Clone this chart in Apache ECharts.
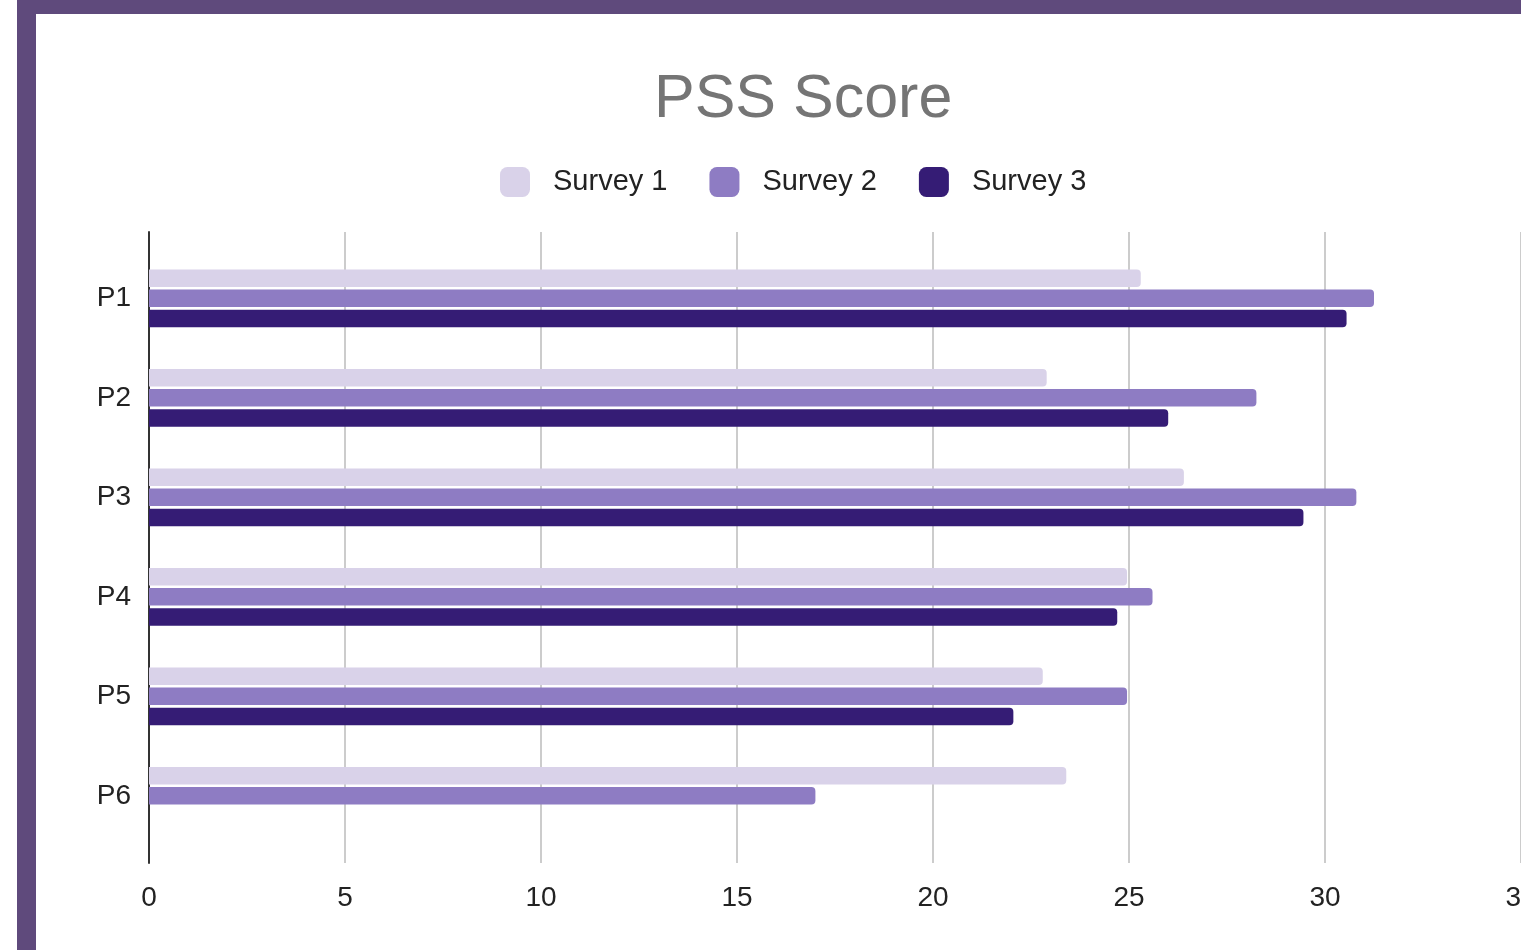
<!DOCTYPE html>
<html>
<head>
<meta charset="utf-8">
<script src="https://cdn.jsdelivr.net/npm/echarts@6/dist/echarts.min.js"></script>
<style>
  html, body { margin: 0; padding: 0; background: #fff; overflow: hidden; }
  /* 左侧和顶部的紫色边框 */
  .frameLeft { position: absolute; left: 17px; top: 0; width: 19px; height: 950px; background: #5f4a7c; }
  .frameTop { position: absolute; left: 17px; top: 0; right: 0; height: 14px; background: #5f4a7c; }
  #chart { position: absolute; left: 0; top: 0; width: 1521px; height: 950px; }
</style>
</head>
<body>
<div class="frameLeft"></div>
<div class="frameTop"></div>
<div id="chart"></div>
<script>
// 数据
const categories = ['P1', 'P2', 'P3', 'P4', 'P5', 'P6'];
const survey1 = [25.3, 22.9, 26.4, 24.95, 22.8, 23.4];
const survey2 = [31.25, 28.25, 30.8, 25.6, 24.95, 17];
const survey3 = [30.55, 26, 29.45, 24.7, 22.05, null];
const seriesNames = ['Survey 1', 'Survey 2', 'Survey 3'];
const colors = ['#d9d2e9', '#8e7cc3', '#351c75'];
const xMin = 0, xMax = 35, xStep = 5;

const font = '"Liberation Sans", Arial, sans-serif';
const chart = echarts.init(document.getElementById('chart'));

const makeBar = (name, data, color) => ({
  name: name,
  type: 'bar',
  xAxisIndex: 0,
  yAxisIndex: 0,
  data: data,
  barWidth: 17.5,
  barGap: '15%',
  itemStyle: { color: color, borderRadius: [0, 4, 4, 0] }
});

const option = {
  animation: false,
  backgroundColor: 'transparent',
  textStyle: { fontFamily: font },
  title: {
    text: 'PSS Score',
    left: 649,
    top: 65,
    textStyle: { fontFamily: font, fontSize: 61, fontWeight: 'normal', color: '#757575' }
  },
  legend: {
    left: 495,
    top: 162,
    itemWidth: 30,
    itemHeight: 30,
    itemGap: 42,
    icon: 'roundRect',
    data: seriesNames,
    textStyle: { fontFamily: font, fontSize: 29, color: '#222', padding: [0, 0, 0, 18] }
  },
  grid: [
    // 柱子所在区域
    { left: 149, width: 1372, top: 248.6, height: 597, outerBoundsMode: 'none' },
    // 网格线和坐标轴区域（右端的 35 标签被截掉一半）
    { left: 149, width: 1372, top: 232, height: 631, outerBoundsMode: 'none' }
  ],
  xAxis: [
    { gridIndex: 0, type: 'value', min: xMin, max: xMax, show: false },
    {
      gridIndex: 1, type: 'value', min: xMin, max: xMax, interval: xStep,
      axisLine: { show: false },
      axisTick: { show: false },
      splitLine: { show: true, lineStyle: { color: '#cccccc', width: 2 } },
      axisLabel: { fontFamily: font, fontSize: 28, color: '#222', margin: 21 }
    }
  ],
  yAxis: [
    {
      gridIndex: 0, type: 'category', data: categories, inverse: true,
      axisLine: { show: false },
      axisTick: { show: false },
      axisLabel: { fontFamily: font, fontSize: 28, color: '#222', margin: 18 }
    },
    {
      gridIndex: 1, type: 'value',
      axisLine: { show: true, lineStyle: { color: '#333', width: 2 } },
      axisTick: { show: false },
      axisLabel: { show: false },
      splitLine: { show: false }
    }
  ],
  series: [
    makeBar(seriesNames[0], survey1, colors[0]),
    makeBar(seriesNames[1], survey2, colors[1]),
    makeBar(seriesNames[2], survey3, colors[2])
  ]
};

chart.setOption(option);
</script>
</body>
</html>
